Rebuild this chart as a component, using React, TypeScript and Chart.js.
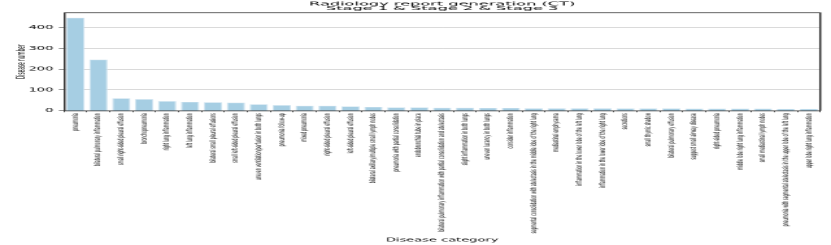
import React, { useEffect, useRef } from "react";
import { Chart, registerables } from "chart.js";

Chart.register(...registerables);

const titleLines = ["Radiology report generation (CT)", "Stage 1 & Stage 2 & Stage 3"];
const xTitle = "Disease category";
const yTitle = "Disease number";

const categories = [
  "pneumonia",
  "bilateral pulmonary inflammation",
  "small right-sided pleural effusion",
  "bronchopneumonia",
  "right lung inflammation",
  "left lung inflammation",
  "bilateral small pleural effusions",
  "small left-sided pleural effusion",
  "uneven ventilation/perfusion in both lungs",
  "pneumonia follow-up",
  "mixed pneumonia",
  "right-sided pleural effusion",
  "left-sided pleural effusion",
  "bilateral axillary/multiple small lymph nodes",
  "pneumonia with partial consolidation",
  "endobronchial tube in place",
  "bilateral pulmonary inflammation with partial consolidation and atelectasis",
  "slight inflammation in both lungs",
  "uneven lucency in both lungs",
  "consider inflammation",
  "segmental consolidation with atelectasis in the middle lobe of the right lung",
  "mediastinal emphysema",
  "inflammation in the lower lobe of the left lung",
  "inflammation in the lower lobe of the right lung",
  "secretions",
  "small thymic shadow",
  "bilateral pulmonary effusion",
  "suggest small airway disease",
  "right-sided pneumonia",
  "middle lobe right lung inflammation",
  "small mediastinal lymph nodes",
  "pneumonia with segmental atelectasis in the upper lobe of the left lung",
  "upper lobe right lung inflammation",
];

const counts = [
  448, 246, 60, 56, 46, 42, 41, 39, 31, 27, 24, 24, 21, 18, 16, 16, 14, 14, 13, 13,
  12, 12, 12, 12, 11, 11, 11, 10, 10, 10, 10, 9, 9,
];

const yTicks = [0, 100, 200, 300, 400];
const yMax = 472.5;

const FONT = '"DejaVu Sans", sans-serif';

const framePlugin = {
  id: "frameAndTitle",
  afterDraw(chart: any) {
    const { ctx, chartArea: a } = chart;
    ctx.save();
    ctx.strokeStyle = "#333";
    ctx.lineWidth = 1.5;
    ctx.beginPath();
    ctx.moveTo(a.left, a.top);
    ctx.lineTo(a.right, a.top);
    ctx.lineTo(a.right, a.bottom);
    ctx.stroke();
    ctx.fillStyle = "#000";
    ctx.font = `10.5px ${FONT}`;
    ctx.textAlign = "center";
    ctx.textBaseline = "alphabetic";
    const cx = (a.left + a.right) / 2;
    const targets = [205, 179];
    const baselines = [10.5, 19.8];
    titleLines.forEach((t, i) => {
      const w = ctx.measureText(t).width;
      const k = targets[i] / w;
      ctx.save();
      ctx.translate(cx, baselines[i]);
      ctx.scale(k, 1);
      ctx.fillText(t, 0, 0);
      ctx.restore();
    });
    ctx.restore();
  },
};

export default function App() {
  const ref = useRef<HTMLCanvasElement>(null);
  useEffect(() => {
    const canvas = ref.current!;
    const chart = new Chart(canvas, {
      type: "bar",
      data: {
        labels: categories,
        datasets: [
          {
            data: counts,
            backgroundColor: "#a6cee3",
            borderColor: "#cde2ef",
            borderWidth: 1,
            barPercentage: 0.8,
            categoryPercentage: 1,
          },
        ],
      },
      plugins: [framePlugin],
      options: {
        animation: false,
        responsive: false,
        devicePixelRatio: 1,
        maintainAspectRatio: false,
        layout: { padding: { top: 25.4, right: 8.3, bottom: 4, left: 0 } },
        plugins: {
          legend: { display: false },
          title: { display: false },
          tooltip: { enabled: false },
        },
        scales: {
          x: {
            afterFit: (s: any) => {
              s.height = 264.6;
            },
            grid: {
              drawOnChartArea: false,
              drawTicks: true,
              tickLength: 3,
              tickColor: "#333",
            },
            border: { display: true, color: "#333", width: 1.5 },
            ticks: {
              autoSkip: false,
              minRotation: 90,
              maxRotation: 90,
              padding: 2,
              color: "#000",
              font: { family: FONT, size: 6.3 },
            },
            title: {
              display: true,
              text: xTitle,
              color: "#000",
              font: { family: FONT, size: 10 },
              padding: { top: 0, bottom: 0 },
            },
          },
          y: {
            min: 0,
            max: yMax,
            afterFit: (s: any) => {
              s.width = 49.3;
            },
            afterBuildTicks: (s: any) => {
              s.ticks = yTicks.map((v) => ({ value: v }));
            },
            grid: {
              color: "#b4b4b4",
              lineWidth: 1,
              borderDash: [3, 2],
              drawTicks: true,
              tickLength: 4,
              tickColor: "#333",
              tickBorderDash: [],
            },
            border: { display: true, color: "#333", width: 1.5 },
            ticks: {
              padding: 4.3,
              color: "#000",
              font: { family: FONT, size: 10 },
            },
            title: {
              display: true,
              text: yTitle,
              color: "#000",
              font: { family: FONT, size: 8.5 },
              padding: { top: 12, bottom: 0 },
            },
          },
        },
      },
    } as any);
    return () => chart.destroy();
  }, []);
  return (
    <div style={{ position: "fixed", left: 0, top: 0, width: 831, height: 245, background: "#fff" }}>
      <canvas
        ref={ref}
        width={640}
        height={490}
        style={{ width: "831px", height: "245px", display: "block" }}
      />
    </div>
  );
}
